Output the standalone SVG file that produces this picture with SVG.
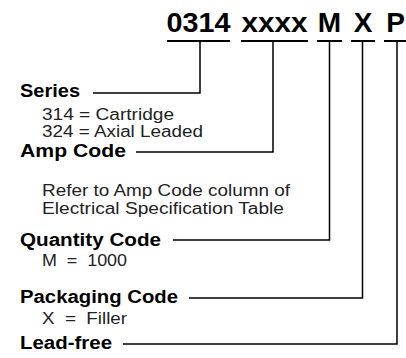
<svg xmlns="http://www.w3.org/2000/svg" width="406" height="358" viewBox="0 0 406 358">
<style>
.code{font-family:"Liberation Sans",Arial,sans-serif;font-weight:bold;font-size:28px;fill:#000;text-anchor:middle}
.lbl{font-family:"Liberation Sans",Arial,sans-serif;font-weight:bold;font-size:18px;fill:#000}
.txt{font-family:"Liberation Sans",Arial,sans-serif;font-size:16px;fill:#222;white-space:pre}
.ul{stroke:#000;stroke-width:2;fill:none}
.ln{stroke:#000;stroke-width:1.5;fill:none}
</style>
<rect width="406" height="358" fill="#fff"/>
<g id="code">
<text class="code" x="198.5" y="32" textLength="64" lengthAdjust="spacingAndGlyphs">0314</text>
<text class="code" x="274.5" y="32" textLength="66" lengthAdjust="spacingAndGlyphs">xxxx</text>
<text class="code" x="329.5" y="32">M</text>
<text class="code" x="363" y="32">X</text>
<text class="code" x="395.5" y="32">P</text>
</g>
<g id="connectors">
<path class="ul" d="M167 41H230M241 41H308M317 41H342M351 41H375M384 41H406"/>
<path class="ln" d="M200 41V93H93"/>
<path class="ln" d="M273 41V152H136"/>
<path class="ln" d="M329.5 41V240H173"/>
<path class="ln" d="M362.5 41V298H189"/>
<path class="ln" d="M397 41V344H123"/>
</g>
<g id="series">
<text class="lbl" x="20" y="97" textLength="60" lengthAdjust="spacingAndGlyphs">Series</text>
<text class="txt" x="42" y="120" textLength="132" lengthAdjust="spacingAndGlyphs">314 = Cartridge</text>
<text class="txt" x="42" y="137" textLength="161" lengthAdjust="spacingAndGlyphs">324 = Axial Leaded</text>
</g>
<g id="amp">
<text class="lbl" x="20" y="157" textLength="106" lengthAdjust="spacingAndGlyphs">Amp Code</text>
<text class="txt" x="42" y="196" textLength="248" lengthAdjust="spacingAndGlyphs">Refer to Amp Code column of</text>
<text class="txt" x="42" y="214" textLength="242" lengthAdjust="spacingAndGlyphs">Electrical Specification Table</text>
</g>
<g id="quantity">
<text class="lbl" x="20" y="246" textLength="141" lengthAdjust="spacingAndGlyphs">Quantity Code</text>
<text class="txt" x="42" y="266" textLength="85" lengthAdjust="spacingAndGlyphs">M  =  1000</text>
</g>
<g id="packaging">
<text class="lbl" x="20" y="303" textLength="158" lengthAdjust="spacingAndGlyphs">Packaging Code</text>
<text class="txt" x="42" y="324" textLength="85" lengthAdjust="spacingAndGlyphs">X  =  Filler</text>
</g>
<g id="leadfree">
<text class="lbl" x="20" y="349" textLength="92" lengthAdjust="spacingAndGlyphs">Lead-free</text>
</g>
</svg>
